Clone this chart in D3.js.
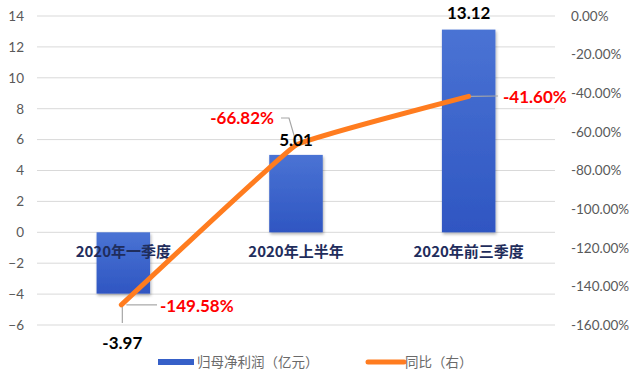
<!DOCTYPE html>
<html><head><meta charset="utf-8">
<script src="https://cdn.jsdelivr.net/npm/d3@7/dist/d3.min.js"></script>
<style>body{margin:0;background:#fff}svg{display:block}</style>
</head><body><svg id="c" width="641" height="381"></svg>
<script>
const categories = ["2020年一季度", "2020年上半年", "2020年前三季度"];
const profit = [-3.97, 5.01, 13.12];
const yoy = [-149.58, -66.82, -41.60];
const leftTicks = [14, 12, 10, 8, 6, 4, 2, 0, -2, -4, -6];
const rightTicks = [0, -20, -40, -60, -80, -100, -120, -140, -160];
const seriesNames = ["归母净利润（亿元）", "同比（右）"];

const svg = d3.select("#c");
const L = 37, R = 555, T = 16, B = 325;
const x = d3.scaleBand().domain(categories).range([L, R]).paddingInner(0.69).paddingOuter(0.345);
const yL = d3.scaleLinear().domain([-6, 14]).range([B, T]);
const yR = d3.scaleLinear().domain([-160, 0]).range([B, T]);
const font = "Lato, 'Noto Sans', sans-serif";

const defs = svg.append("defs");
const g = defs.append("linearGradient").attr("id", "bg").attr("x1", 0).attr("y1", 0).attr("x2", 0).attr("y2", 1);
g.append("stop").attr("offset", 0).attr("stop-color", "#4a73d4");
g.append("stop").attr("offset", 1).attr("stop-color", "#2f56c2");
const f = defs.append("filter").attr("id", "sh").attr("x", -0.2).attr("y", -0.2).attr("width", 1.4).attr("height", 1.4);
f.append("feDropShadow").attr("dx", 1).attr("dy", 2).attr("stdDeviation", 1.5).attr("flood-color", "#000").attr("flood-opacity", 0.3);

// gridlines
svg.append("g").selectAll("line").data(leftTicks).join("line")
  .attr("x1", L).attr("x2", R).attr("y1", d => yL(d)).attr("y2", d => yL(d))
  .attr("stroke", "#d9d9d9").attr("stroke-width", 1);

// left axis
const la = svg.append("g").attr("transform", `translate(${L},0)`)
  .call(d3.axisLeft(yL).tickValues(leftTicks).tickSize(0).tickPadding(13).tickFormat(d3.format("d")));
la.select(".domain").remove();
la.selectAll("text").attr("font-family", font).attr("font-size", 13.5).attr("fill", "#595959");

// right axis
const ra = svg.append("g").attr("transform", `translate(${R},0)`)
  .call(d3.axisRight(yR).tickValues(rightTicks).tickSize(0).tickPadding(16).tickFormat(d => d.toFixed(2) + "%"));
ra.select(".domain").remove();
ra.selectAll("text").attr("font-family", font).attr("font-size", 13.5).attr("fill", "#595959");

// bars
svg.append("g").selectAll("rect").data(profit).join("rect")
  .attr("x", (d, i) => x(categories[i])).attr("width", x.bandwidth())
  .attr("y", d => yL(Math.max(0, d))).attr("height", d => Math.abs(yL(d) - yL(0)))
  .attr("fill", "url(#bg)").attr("filter", "url(#sh)");

// category labels
svg.append("g").selectAll("text").data(categories).join("text")
  .attr("x", d => x(d) + x.bandwidth() / 2).attr("y", yL(0) + 25)
  .attr("text-anchor", "middle").attr("font-family", "'Noto Sans CJK SC', sans-serif")
  .attr("font-weight", "bold").attr("font-size", 15).attr("fill", "#1f2d5c").text(d => d);

// line
const cx = i => x(categories[i]) + x.bandwidth() / 2;
svg.append("path").datum(yoy)
  .attr("d", d3.line().x((d, i) => cx(i) - (i === 0 ? 2 : 0)).y(d => yR(d)).curve(d3.curveCardinal.tension(0.8)))
  .attr("fill", "none").attr("stroke", "#ff7c1f").attr("stroke-width", 5).attr("stroke-linecap", "round");

// leader lines
const lead = svg.append("g").attr("stroke", "#a6a6a6").attr("stroke-width", 1.2).attr("fill", "none");
lead.append("path").attr("d", `M${cx(0)+3},${yR(yoy[0])} H157`);
lead.append("path").attr("d", `M${cx(0)-1},${yR(yoy[0])+2} V323`);
lead.append("path").attr("d", `M281,118 H289 L${cx(1)},${yR(yoy[1])-3}`);
lead.append("path").attr("d", `M${cx(2)+2},${yR(yoy[2])} Q485,96 498,96`);

// value labels
const vlab = [[cx(0) - 1, 343], [cx(1), 140], [cx(2), 13]];
svg.append("g").selectAll("text").data(profit).join("text")
  .attr("x", (d, i) => vlab[i][0]).attr("y", (d, i) => vlab[i][1]).attr("dy", "0.35em")
  .attr("text-anchor", "middle").attr("font-family", font).attr("font-weight", "bold")
  .attr("font-size", 17).attr("fill", "#000").text(d => d.toFixed(2));

const plab = [[160, 306, "start"], [274, 118, "end"], [503, 97, "start"]];
svg.append("g").selectAll("text").data(yoy).join("text")
  .attr("x", (d, i) => plab[i][0]).attr("y", (d, i) => plab[i][1]).attr("dy", "0.35em")
  .attr("text-anchor", (d, i) => plab[i][2]).attr("font-family", font).attr("font-weight", "bold")
  .attr("font-size", 17).attr("fill", "#ff0000").text(d => d.toFixed(2) + "%");

// legend
const lg = svg.append("g").attr("font-family", "'Noto Sans CJK SC', sans-serif").attr("font-size", 13.5).attr("fill", "#6a6a6a");
lg.append("rect").attr("x", 158).attr("y", 359).attr("width", 36).attr("height", 6).attr("fill", "#3660c8");
lg.append("text").attr("x", 197).attr("y", 362).attr("dy", "0.35em").text(seriesNames[0]);
lg.append("line").attr("x1", 368).attr("x2", 404).attr("y1", 362).attr("y2", 362).attr("stroke", "#ff7c1f").attr("stroke-width", 5).attr("stroke-linecap", "round");
lg.append("text").attr("x", 405).attr("y", 362).attr("dy", "0.35em").text(seriesNames[1]);
</script></body></html>
